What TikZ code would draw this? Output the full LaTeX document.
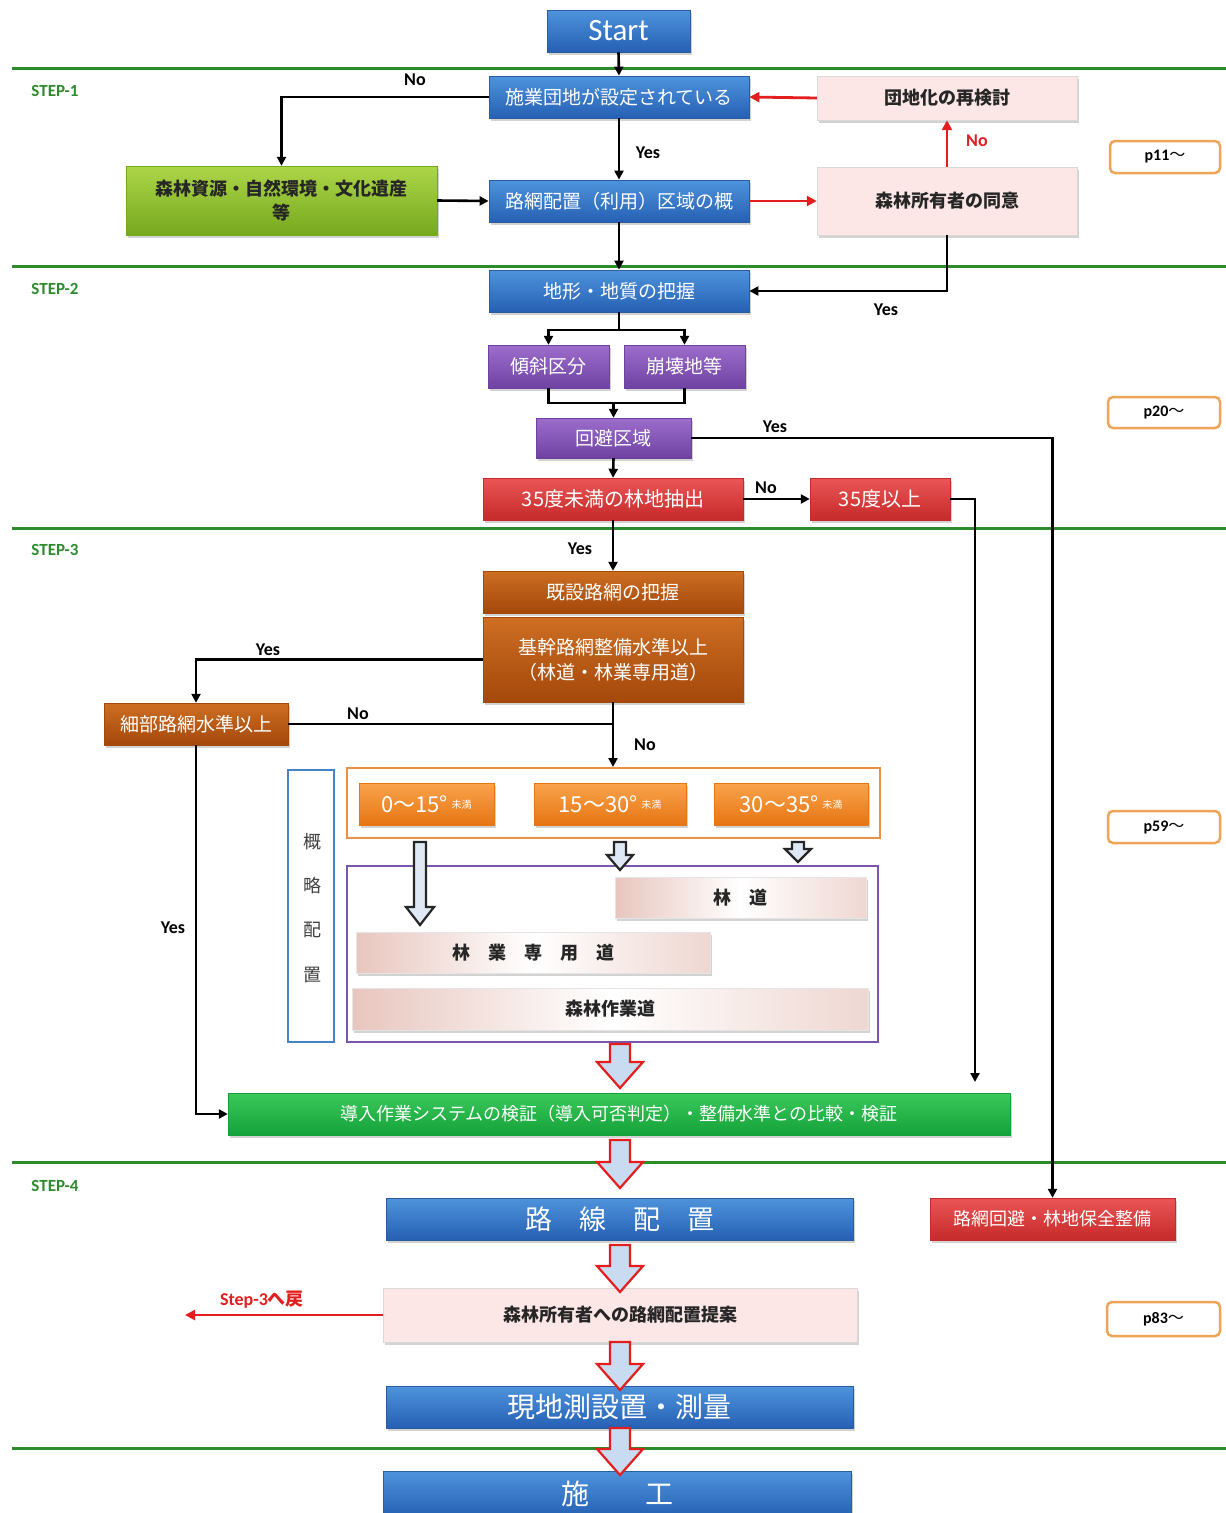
\documentclass[tikz,border=0pt]{standalone}
\usepackage{fontspec}
\setmainfont{Noto Sans CJK JP}
\newfontfamily\lat{Carlito}
\newfontfamily\jp{Noto Sans CJK JP}
\usetikzlibrary{arrows.meta,shadows}
\definecolor{blueT}{HTML}{4E93DC}
\definecolor{blueB}{HTML}{2660B4}
\definecolor{blueD}{HTML}{2A5C9E}
\definecolor{purT}{HTML}{9C6DCB}
\definecolor{purB}{HTML}{6F42A2}
\definecolor{redT}{HTML}{EA5555}
\definecolor{redB}{HTML}{C62A2A}
\definecolor{brnT}{HTML}{CD6E22}
\definecolor{brnB}{HTML}{A4480B}
\definecolor{orgT}{HTML}{F9A34C}
\definecolor{orgB}{HTML}{E67512}
\definecolor{ygT}{HTML}{ADD648}
\definecolor{ygB}{HTML}{76A81E}
\definecolor{grT}{HTML}{3CC85A}
\definecolor{grB}{HTML}{13A23A}
\definecolor{pinkA}{HTML}{FCE6E6}
\definecolor{pinkE}{HTML}{E8C6BE}
\definecolor{stepgreen}{HTML}{2E8A2E}
\definecolor{lineGreen}{HTML}{2C8C2C}
\definecolor{arrRed}{HTML}{E21E1E}
\definecolor{hollowFill}{HTML}{C9DBF0}
\definecolor{pframe}{HTML}{F0A458}
\newcommand\holarr[8]{\filldraw[draw=#7,fill=#8,line width=2.2pt,line join=miter]
 (#1-#4,#2) -- (#1+#4,#2) -- (#1+#4,#3-#6) -- (#1+#5,#3-#6) -- (#1,#3) -- (#1-#5,#3-#6) -- (#1-#4,#3-#6) -- cycle;}
\newcommand\miman{\,\raisebox{4pt}{\fontsize{10}{10}\selectfont 未満}}
\begin{document}
\begin{tikzpicture}[x=1pt,y=-1pt,
  box/.style={rectangle, inner sep=0pt, align=center,
    drop shadow={shadow xshift=2pt,shadow yshift=-3pt,opacity=0.35}},
  bluebox/.style={box, top color=blueT, bottom color=blueB, draw=blueD, line width=0.8pt,
    text=white, font=\fontsize{19}{23}\selectfont},
  purbox/.style={box, top color=purT, bottom color=purB, draw=purB, text=white,
    font=\fontsize{19}{23}\selectfont},
  redbox/.style={box, top color=redT, bottom color=redB, draw=redB, text=white,
    font=\fontsize{19}{23}\selectfont},
  brnbox/.style={box, top color=brnT, bottom color=brnB, draw=brnB, text=white,
    font=\fontsize{19}{25}\selectfont},
  orgbox/.style={box, top color=orgT, bottom color=orgB, draw=orgB, text=white,
    font=\fontsize{22}{24}\selectfont},
  ygbox/.style={box, top color=ygT, bottom color=ygB, draw=ygB, text=black!85,
    font=\bfseries\fontsize{18}{24}\selectfont},
  grbox/.style={box, top color=grT, bottom color=grB, draw=grB, text=white,
    font=\fontsize{18}{23}\selectfont},
  pinkbox/.style={box, fill=pinkA, draw=black!15, text=black!85,
    font=\bfseries\fontsize{18}{23}\selectfont},
  roadbox/.style={box, left color=pinkE, right color=pinkE!70, middle color=white,
    draw=black!10, text=black!85, font=\bfseries\fontsize{18}{23}\selectfont},
  pbox/.style={rectangle, rounded corners=5pt, draw=pframe, line width=2.5pt, fill=white,
    inner sep=0pt, font=\lat\bfseries\fontsize{16}{18}\selectfont},
  steplbl/.style={font=\lat\bfseries\fontsize{17}{19}\selectfont, text=stepgreen},
  lbl/.style={font=\lat\bfseries\fontsize{18}{20}\selectfont, text=black},
  rlbl/.style={font=\lat\bfseries\fontsize{18}{20}\selectfont, text=arrRed},
  arr/.style={line width=2.6pt, -{Triangle[length=9pt,width=9pt]}},
  ln/.style={line width=2.6pt},
  rarr/.style={line width=2.8pt, draw=arrRed, -{Triangle[length=10pt,width=10pt]}},
  gline/.style={line width=3pt, draw=lineGreen}
]
\useasboundingbox (0,0) rectangle (1226,1513);
\fill[white] (0,0) rectangle (1226,1513);

% green separators
\coordinate (g1a) at (12,68);   \coordinate (g1b) at (1226,68);
\coordinate (g2a) at (12,266);  \coordinate (g2b) at (1226,266);
\coordinate (g3a) at (12,528);  \coordinate (g3b) at (1226,528);
\coordinate (g4a) at (12,1162); \coordinate (g4b) at (1226,1162);
\coordinate (g5a) at (12,1448); \coordinate (g5b) at (1226,1448);
\draw[gline] (g1a) -- (g1b);
\draw[gline] (g2a) -- (g2b);
\draw[gline] (g3a) -- (g3b);
\draw[gline] (g4a) -- (g4b);
\draw[gline] (g5a) -- (g5b);

\node[steplbl] (s1) at (55,91) {STEP-1};
\node[steplbl] (s2) at (55,289) {STEP-2};
\node[steplbl] (s3) at (55,550) {STEP-3};
\node[steplbl] (s4) at (55,1186) {STEP-4};

% page references
\node[pbox, minimum width=110pt, minimum height=32pt] (p11) at (1165,157) {p11{\jp\mdseries 〜}};
\node[pbox, minimum width=112pt, minimum height=31pt] (p20) at (1164,412.5) {p20{\jp\mdseries 〜}};
\node[pbox, minimum width=112pt, minimum height=32pt] (p59) at (1164,827) {p59{\jp\mdseries 〜}};
\node[pbox, minimum width=113pt, minimum height=34pt] (p83) at (1163.5,1319) {p83{\jp\mdseries 〜}};

% STEP-1
\node[bluebox, minimum width=143pt, minimum height=42pt, font=\lat\fontsize{31}{33}\selectfont] (start) at (618.5,31) {Start};
\node[bluebox, minimum width=260pt, minimum height=42pt] (n1) at (619,97) {施業団地が設定されている};
\node[pinkbox, minimum width=260pt, minimum height=44pt] (n2) at (947,98) {団地化の再検討};
\node[ygbox, minimum width=311pt, minimum height=69pt] (g1) at (281.5,200.5) {森林資源・自然環境・文化遺産\\等};
\node[bluebox, minimum width=260pt, minimum height=42pt] (n3) at (619,201) {路網配置（利用）区域の概};
\node[pinkbox, minimum width=260pt, minimum height=68pt] (n4) at (947,201) {森林所有者の同意};

\draw[arr] (start.south) -- (n1.north);
\draw[arr] (n1.west) -| (g1.north);
\node[lbl] (lno1) at (415,80) {No};
\draw[arr] (n1.south) -- (n3.north);
\node[lbl] (lyes1) at (648,153) {Yes};
\draw[arr] (g1.east) -- (n3.west);
\draw[rarr] (n3.east) -- (n4.west);
\draw[rarr] (n4.north) -- (n2.south);
\node[rlbl] (lno2) at (977,141) {No};
\draw[rarr] (n2.west) -- (n1.east);

% STEP-2
\node[bluebox, minimum width=260pt, minimum height=42pt] (n5) at (619,291) {地形・地質の把握};
\node[purbox, minimum width=121pt, minimum height=43pt] (n6) at (548.5,366.5) {傾斜区分};
\node[purbox, minimum width=121pt, minimum height=43pt] (n7) at (684.5,366.5) {崩壊地等};
\node[purbox, minimum width=155pt, minimum height=40pt] (n8) at (613.5,438) {回避区域};
\node[redbox, minimum width=260pt, minimum height=42pt, font=\fontsize{20}{23}\selectfont] (n9) at (613,499) {35度未満の林地抽出};
\node[redbox, minimum width=140pt, minimum height=42pt, font=\fontsize{20}{23}\selectfont] (n10) at (880,499) {35度以上};

\draw[arr] (n3.south) -- (n5.north);
\draw[arr] (n4.south) |- (n5.east);
\node[lbl] (lyes2) at (886,310) {Yes};
\coordinate (c1) at (619,330);
\draw[ln] (n5.south) -- (c1);
\draw[arr] (c1) -| (n6.north);
\draw[arr] (c1) -| (n7.north);
\coordinate (c2) at (613.5,403);
\draw[ln] (n6.south) |- (c2) -| (n7.south);
\draw[arr] (c2) -- (n8.north);
\draw[arr] (n8.south) -- (n9.north);
\draw[arr] (n9.east) -- (n10.west);
\node[lbl] (lno3) at (766,488) {No};
\node[lbl] (lyes3) at (775,427) {Yes};

% STEP-3
\node[brnbox, minimum width=260pt, minimum height=42pt] (n11) at (613,592) {既設路網の把握};
\node[brnbox, minimum width=260pt, minimum height=85pt] (n12) at (613,659.5) {基幹路網整備水準以上\\（林道・林業専用道）};
\node[brnbox, minimum width=184pt, minimum height=42pt] (n13) at (196,724) {細部路網水準以上};

\draw[arr] (n9.south) -- (n11.north);
\node[lbl] (lyes4) at (580,549) {Yes};
\draw[arr] (n12.west) -| (n13.north);
\node[lbl] (lyes5) at (268,650) {Yes};
\coordinate (c4) at (613,724);
\draw[ln] (n13.east) -- (c4);
\node[lbl] (lno4) at (358,714) {No};

% slope frame
\node[draw=orgB!80, line width=2pt, minimum width=533pt, minimum height=70pt, inner sep=0pt] (oframe) at (613.5,803) {};
\draw[arr] (n12.south) -- (n12.south |- oframe.north);
\node[lbl] (lno5) at (645,745) {No};
\node[orgbox, minimum width=135pt, minimum height=42pt] (o1) at (426.5,804) {0〜15°\miman};
\node[orgbox, minimum width=152pt, minimum height=42pt] (o2) at (610,804) {15〜30°\miman};
\node[orgbox, minimum width=154pt, minimum height=42pt] (o3) at (791,804) {30〜35°\miman};

% outline placement
\node[draw=blueT!90!black, line width=2.5pt, minimum width=46pt, minimum height=272pt, inner sep=0pt] (gbox) at (311,906) {};
\node[font=\fontsize{18}{20}\selectfont, text=black!75] (v1) at (312,842) {概};
\node[font=\fontsize{18}{20}\selectfont, text=black!75] (v2) at (312,886) {略};
\node[font=\fontsize{18}{20}\selectfont, text=black!75] (v3) at (312,930) {配};
\node[font=\fontsize{18}{20}\selectfont, text=black!75] (v4) at (312,975) {置};

\node[draw=purB!90, line width=2pt, minimum width=531pt, minimum height=176pt, inner sep=0pt] (pframe) at (612.5,954) {};
\node[roadbox, minimum width=251pt, minimum height=41pt] (r1) at (740.5,897.5) {林\quad 道};
\node[roadbox, minimum width=354pt, minimum height=41pt] (r2) at (533,952.5) {林\quad 業\quad 専\quad 用\quad 道};
\node[roadbox, minimum width=516pt, minimum height=42pt] (r3) at (610,1009) {森林作業道};

\holarr{420}{842}{925}{6}{14}{18}{black!85}{hollowFill!60}
\holarr{620}{842}{870}{6}{13}{15}{black!85}{hollowFill!60}
\holarr{798}{842}{862}{6}{13}{13}{black!85}{hollowFill!60}

% verification
\node[grbox, minimum width=782pt, minimum height=42pt] (n19) at (619,1114) {導入作業システムの検証（導入可否判定）・整備水準との比較・検証};
\coordinate (c3) at (975,1082);
\draw[arr] (n10.east) -| (c3);
\draw[arr] (n13.south) |- (n19.west);
\node[lbl] (lyes6) at (173,928) {Yes};

% STEP-4
\node[bluebox, minimum width=467pt, minimum height=42pt, font=\fontsize{27}{30}\selectfont] (n14) at (619.5,1219) {路\quad 線\quad 配\quad 置};
\node[redbox, minimum width=245pt, minimum height=42pt, font=\fontsize{18}{22}\selectfont] (n15) at (1052.5,1219) {路網回避・林地保全整備};
\draw[arr] (n8.east) -| (n15.north);
\node[pinkbox, minimum width=474pt, minimum height=54pt] (n16) at (620,1315) {森林所有者への路網配置提案};
\coordinate (c5) at (185,1315);
\draw[rarr] (n16.west) -- (c5);
\node[rlbl] (lback) at (262,1300) {Step-3{\jp\bfseries へ戻}};
\node[bluebox, minimum width=467pt, minimum height=42pt, font=\fontsize{28}{30}\selectfont] (n17) at (619.5,1407) {現地測設置・測量};
\node[bluebox, minimum width=468pt, minimum height=46pt, font=\fontsize{28}{30}\selectfont] (n18) at (617,1494) {施\qquad 工};

\holarr{620}{1044}{1088}{10}{23}{26}{arrRed}{hollowFill}
\holarr{620}{1140}{1188}{10}{23}{26}{arrRed}{hollowFill}
\holarr{620}{1245}{1292}{10}{23}{26}{arrRed}{hollowFill}
\holarr{620}{1342}{1390}{10}{23}{26}{arrRed}{hollowFill}
\holarr{620}{1428}{1475}{10}{23}{26}{arrRed}{hollowFill}
\end{tikzpicture}
\end{document}
